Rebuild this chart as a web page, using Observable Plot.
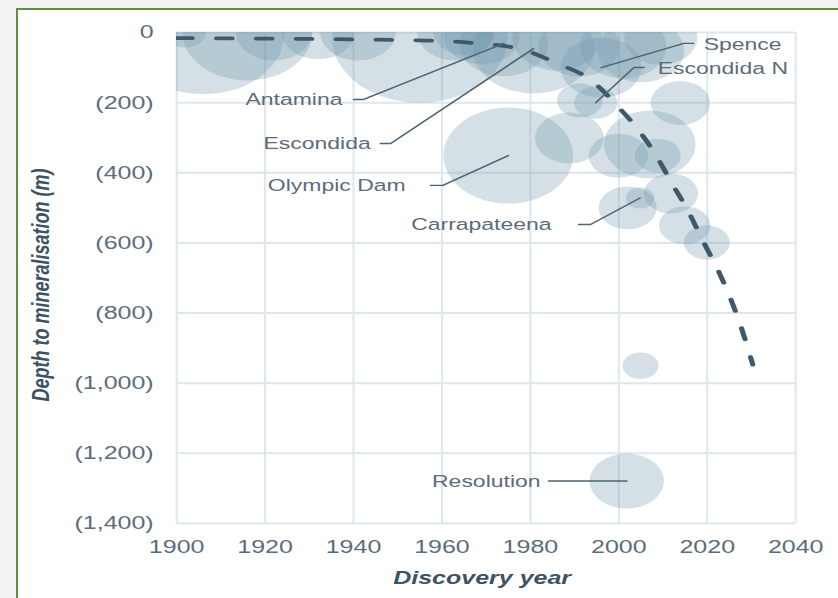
<!DOCTYPE html>
<html>
<head>
<meta charset="utf-8">
<script src="https://cdn.jsdelivr.net/npm/d3@7"></script>
<script src="https://cdn.jsdelivr.net/npm/@observablehq/plot@0.6"></script>
<style>
  html, body { margin: 0; padding: 0; }
  body { width: 838px; height: 598px; overflow: hidden; background: #f2f2f2; position: relative; }
  #frame { position: absolute; left: 16px; top: 8px; width: 840px; height: 600px; background: #ffffff;
           border-left: 2px solid #5e8f3f; border-top: 2px solid #5e8f3f; }
  #chart { position: absolute; left: 0; top: 0; }
</style>
</head>
<body>
<div id="frame"></div>
<div id="chart"></div>
<script>
// ---- data ----
const xTicks = [1900, 1920, 1940, 1960, 1980, 2000, 2020, 2040];
const yTicks = [0, 200, 400, 600, 800, 1000, 1200, 1400];

const bubbleNames  = ["", "", "", "", "", "", "", "", "", "", "Antamina", "Escondida", "", "", "Spence", "", "", "",
                      "", "Escondida N", "", "Olympic Dam", "", "", "", "", "", "Carrapateena", "", "", "", "", "Resolution"];
const bubbleYears  = [1902, 1906, 1916, 1922, 1932, 1941, 1955, 1963, 1969, 1965, 1974, 1980.7, 1986, 1991, 1996, 2001, 2005, 2009.5,
                      1991.2, 1994.8, 2013.9, 1975, 1988.8, 2007, 1999.9, 2008.8, 2002, 2004.8, 2011.8, 2014.9, 2019.9, 2004.9, 2001.8];
const bubbleDepths = [0, 5, 0, 0, 0, 0, 15, 0, 10, 0, 31, 46, 15, 40, 100, 40, 51, 15,
                      194, 200, 201, 351, 301, 319, 351, 351, 500, 472, 459, 550, 599, 950, 1279];
const bubbleSizes  = [6.3, 100, 64, 21.8, 20, 21.8, 117, 21.8, 22, 14, 30, 56, 30, 25, 25, 28.4, 28.4, 20.3,
                      8, 7.1, 13.4, 64, 18, 32, 13.4, 8, 12.8, 3.1, 11.1, 10, 8, 4.9, 21];

const trendYears  = [1900, 1957, 1968, 1978, 1986, 1993.6, 1999.7, 2004.3, 2008.3, 2012, 2015.8, 2019, 2022.6, 2027.6, 2030.3];
const trendDepths = [16, 23, 31, 48, 88, 135, 210, 276, 348, 430, 512, 594, 682, 838, 947];

// callout annotations: label, label anchor (year, depth), side, leader start year, elbow year, leader depth
const calloutNames      = ["Antamina", "Escondida", "Olympic Dam", "Carrapateena", "Resolution", "Spence", "Escondida N"];
const calloutTextYears  = [1937.5, 1943.9, 1951.8, 1984.8, 1982.3, 2019.2, 2008.8];
const calloutTextDepths = [191, 316.5, 437, 547.5, 1280, 33, 103];
const calloutSides      = ["end", "end", "end", "end", "end", "start", "start"];
const calloutStartYears = [1940.0, 1946.1, 1957.4, 1990.9, 1984.1, 2016.9, 2005.7];
const calloutElbowYears = [1942.3, 1948.4, 1960.2, 1993.6, 1990.0, 2014.7, 2003.4];
const calloutLineDepths = [191, 316.5, 436, 547.5, 1279, 31, 100];

// ---- tables built from the arrays ----
const bubbles = bubbleYears.map((y, i) => ({name: bubbleNames[i], year: y, depth: bubbleDepths[i], size: bubbleSizes[i]}));
const trend = trendYears.map((y, i) => ({year: y, depth: trendDepths[i]}));
const callouts = calloutNames.map((n, i) => ({name: n, year: calloutTextYears[i], depth: calloutTextDepths[i], side: calloutSides[i]}));
const leaders = calloutNames.flatMap((n, i) => {
  const b = bubbles.find(d => d.name === n);
  return [
    {name: n, year: calloutStartYears[i], depth: calloutLineDepths[i]},
    {name: n, year: calloutElbowYears[i], depth: calloutLineDepths[i]},
    {name: n, year: b.year, depth: b.depth}
  ];
});

const W = 620, H = 598;
const tickColor = "#5c6c7c", titleColor = "#3d5264";
const fmtY = d => d === 0 ? "0" : "(" + d3.format(",")(d) + ")";
const fmtX = d => String(d);
const font = "'Liberation Sans', Arial, Helvetica, sans-serif";

const svg = Plot.plot({
  width: W, height: H,
  marginLeft: 130.2, marginRight: 31.8, marginTop: 32, marginBottom: 75,
  style: {fontFamily: font, fontSize: "18px", color: tickColor, background: "transparent", overflow: "visible"},
  x: {domain: [1900, 2040], ticks: xTicks, tickFormat: fmtX},
  y: {domain: [0, 1400], reverse: true, ticks: yTicks, tickFormat: fmtY},
  r: {domain: [0, 100], range: [0, 60]},
  marks: [
    Plot.ruleX(xTicks, {x: d => d, stroke: "#dfe6ed", strokeWidth: 1.5}),
    Plot.ruleY(yTicks, {y: d => d, stroke: "#dfe6ed", strokeWidth: 2}),
    Plot.dot(bubbles, {x: "year", y: "depth", r: "size", fill: "#6f97ac", fillOpacity: 0.3, stroke: "none", clip: true}),
    Plot.line(trend, {x: "year", y: "depth", curve: "monotone-x", stroke: "#40596a", strokeWidth: 3.8,
                      strokeDasharray: "11.5,18", strokeLinecap: "round", clip: true}),
    Plot.line(leaders, {x: "year", y: "depth", z: "name", stroke: "#4e6374", strokeWidth: 1.4}),
    Plot.text(callouts.filter(d => d.side === "end"), {x: "year", y: "depth", text: "name", textAnchor: "end", fontSize: 17, fill: "#5c6c7c"}),
    Plot.text(callouts.filter(d => d.side === "start"), {x: "year", y: "depth", text: "name", textAnchor: "start", fontSize: 17, fill: "#5c6c7c"}),
    Plot.axisX({ticks: xTicks, tickFormat: fmtX, tickSize: 0, tickPadding: 16, label: null, fill: tickColor, fontSize: 18.5}),
    Plot.axisY({ticks: yTicks, tickFormat: fmtY, tickSize: 0, tickPadding: 17, label: null, fill: tickColor, fontSize: 18.5}),
    Plot.text(["Depth to mineralisation (m)"], {text: d => d, frameAnchor: "left", textAnchor: "middle", lineAnchor: "middle",
               rotate: -90, dx: -100, dy: 7, fontWeight: "bold", fontStyle: "italic", fontSize: 18, fill: titleColor}),
    Plot.text(["Discovery year"], {text: d => d, frameAnchor: "bottom", textAnchor: "middle", lineAnchor: "middle",
               dx: -3, dy: 55, fontWeight: "bold", fontStyle: "italic", fontSize: 18.5, fill: titleColor})
  ]
});

// the reference is drawn horizontally stretched: widen the SVG viewport
svg.setAttribute("width", 838);
svg.setAttribute("height", 598);
svg.setAttribute("preserveAspectRatio", "none");
svg.style.width = "838px";
svg.style.height = "598px";
svg.style.maxWidth = "none";
document.getElementById("chart").appendChild(svg);
</script>
</body>
</html>
